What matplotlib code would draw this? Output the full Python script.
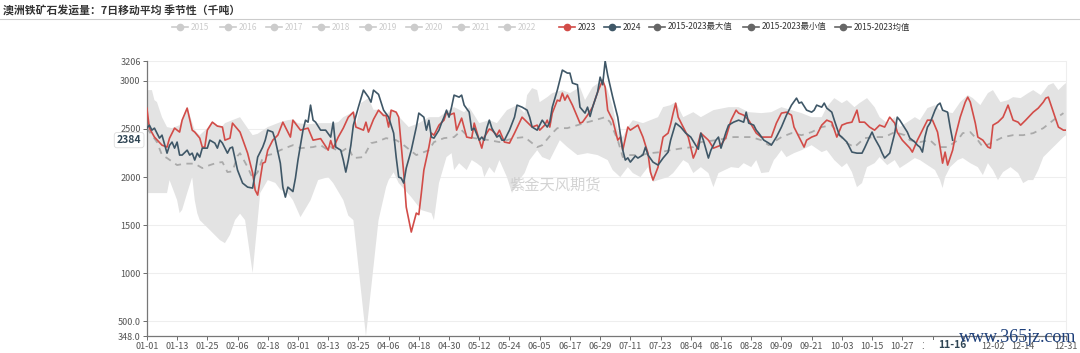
import numpy as np
import pandas as pd
import matplotlib
matplotlib.use("Agg")
import matplotlib.pyplot as plt
from matplotlib.lines import Line2D
from matplotlib.patches import Rectangle

plt.rcParams['font.family'] = ['Noto Sans CJK SC', 'DejaVu Sans']

# ---- data (day index within a leap-year calendar, value in kt) ----
days_all = pd.date_range('2024-01-01', '2024-12-31').strftime('%m-%d').tolist()

s2023 = [(0, 2716), (1, 2509), (3, 2416), (6, 2332), (8, 2312), (9, 2405), (11, 2509), (13, 2468), (14, 2592),
         (16, 2717), (18, 2488), (19, 2468), (21, 2405), (22, 2312), (23, 2312), (24, 2488), (26, 2571), (28, 2530),
         (30, 2520), (31, 2384), (33, 2405), (34, 2561), (37, 2468), (40, 2249), (42, 2042), (43, 1865), (44, 1813),
         (46, 2145), (47, 2156), (48, 2280), (50, 2384), (52, 2436), (54, 2571), (57, 2416), (58, 2592), (61, 2488),
         (64, 2509), (66, 2384), (69, 2400), (72, 2280), (73, 2380), (74, 2301), (76, 2416), (78, 2509), (80, 2623),
         (82, 2675), (83, 2520), (86, 2488), (87, 2571), (88, 2468), (90, 2600), (92, 2696), (94, 2640), (95, 2640),
         (96, 2520), (97, 2696), (99, 2675), (100, 2623), (102, 2042), (103, 1688), (105, 1429), (107, 1626),
         (108, 1610), (109, 1834), (110, 2073), (112, 2312), (113, 2457), (114, 2436), (116, 2540), (118, 2592),
         (119, 2675), (120, 2644), (122, 2665), (123, 2488), (125, 2613), (127, 2416), (129, 2405), (130, 2561),
         (132, 2384), (133, 2301), (134, 2416), (136, 2500), (137, 2488), (139, 2436), (140, 2488), (142, 2364),
         (144, 2353), (146, 2457), (149, 2623), (151, 2571), (153, 2520), (155, 2540), (156, 2488), (158, 2540),
         (159, 2592), (160, 2520), (161, 2665), (163, 2800), (164, 2790), (165, 2873), (166, 2800), (167, 2852),
         (169, 2748), (171, 2623), (172, 2561), (173, 2571), (175, 2644), (177, 2727), (179, 2883), (181, 3008),
         (182, 2935), (183, 2696), (185, 2592), (187, 2384), (188, 2416), (189, 2280), (191, 2520), (192, 2488),
         (195, 2540), (197, 2416), (199, 2249), (200, 2052), (201, 1969), (203, 2104), (204, 2280), (205, 2416),
         (207, 2457), (208, 2550), (209, 2665), (210, 2768), (211, 2623), (213, 2520), (215, 2416), (217, 2198),
         (218, 2260), (220, 2457), (223, 2384), (225, 2301), (228, 2332), (230, 2416), (232, 2592), (234, 2696),
         (235, 2665), (237, 2644), (239, 2592), (242, 2457), (244, 2416), (248, 2416), (250, 2561), (252, 2665),
         (254, 2675), (256, 2644), (257, 2520), (259, 2416), (261, 2312), (262, 2384), (264, 2416), (266, 2436),
         (268, 2540), (270, 2592), (272, 2571), (274, 2416), (276, 2540), (278, 2561), (280, 2571), (282, 2696),
         (283, 2571), (285, 2571), (287, 2520), (289, 2488), (291, 2540), (293, 2520), (295, 2623), (297, 2561),
         (298, 2468), (300, 2384), (303, 2301), (304, 2260), (306, 2384), (308, 2488), (310, 2592), (312, 2592),
         (314, 2468), (315, 2312), (316, 2145), (317, 2260), (318, 2125), (320, 2280), (321, 2416), (323, 2623),
         (325, 2779), (326, 2831), (327, 2779), (329, 2561), (330, 2416), (332, 2384), (334, 2312), (335, 2301),
         (336, 2540), (338, 2571), (340, 2623), (342, 2748), (344, 2592), (346, 2571), (347, 2540), (349, 2592),
         (352, 2675), (354, 2717), (356, 2779), (357, 2821), (358, 2831), (360, 2675), (362, 2520), (364, 2488),
         (365, 2488)]

s2024 = [(0, 2509), (1, 2540), (2, 2488), (3, 2509), (5, 2405), (6, 2436), (8, 2249), (9, 2330), (10, 2364),
         (11, 2301), (12, 2364), (13, 2229), (14, 2229), (16, 2280), (17, 2229), (18, 2249), (19, 2177), (20, 2249),
         (21, 2208), (22, 2301), (24, 2301), (25, 2384), (27, 2353), (28, 2301), (29, 2384), (30, 2353), (32, 2249),
         (33, 2301), (34, 2312), (36, 2073), (38, 1938), (40, 1896), (42, 1886), (43, 2042), (44, 2208), (46, 2312),
         (47, 2384), (48, 2488), (50, 2468), (51, 2384), (53, 2145), (54, 1896), (55, 1792), (56, 1896), (58, 1850),
         (59, 1990), (60, 2177), (62, 2488), (63, 2592), (64, 2571), (65, 2748), (66, 2592), (67, 2571), (69, 2488),
         (71, 2488), (73, 2416), (74, 2571), (75, 2312), (77, 2280), (78, 2177), (79, 2052), (80, 2177), (81, 2330),
         (82, 2540), (84, 2727), (86, 2904), (88, 2831), (89, 2779), (90, 2904), (92, 2860), (93, 2779), (94, 2696),
         (96, 2623), (98, 2457), (99, 2208), (100, 2000), (101, 1990), (102, 1938), (103, 2094), (105, 2280),
         (107, 2520), (108, 2665), (110, 2623), (111, 2488), (112, 2590), (113, 2416), (114, 2405), (116, 2488),
         (117, 2561), (118, 2623), (119, 2696), (120, 2623), (121, 2727), (122, 2852), (124, 2831), (125, 2852),
         (126, 2748), (128, 2675), (129, 2488), (130, 2509), (132, 2384), (133, 2416), (134, 2384), (135, 2509),
         (136, 2592), (137, 2509), (139, 2416), (140, 2436), (141, 2384), (142, 2384), (144, 2488), (146, 2623),
         (147, 2748), (149, 2727), (151, 2696), (152, 2623), (153, 2520), (155, 2488), (157, 2592), (159, 2520),
         (160, 2571), (161, 2727), (163, 2904), (164, 3008), (165, 3112), (167, 3081), (168, 3081), (169, 2977),
         (171, 2960), (172, 2727), (174, 2665), (175, 2727), (176, 2630), (177, 2727), (179, 2883), (180, 3039),
         (181, 2960), (182, 3206), (183, 3060), (185, 2831), (187, 2623), (189, 2280), (190, 2177), (191, 2200),
         (192, 2156), (194, 2220), (195, 2198), (197, 2230), (198, 2312), (199, 2230), (201, 2156), (203, 2125),
         (205, 2198), (207, 2260), (208, 2384), (210, 2561), (212, 2520), (214, 2457), (216, 2416), (218, 2330),
         (219, 2290), (220, 2457), (221, 2384), (223, 2198), (224, 2280), (226, 2384), (227, 2416), (228, 2301),
         (230, 2468), (231, 2540), (233, 2571), (235, 2592), (237, 2571), (238, 2675), (239, 2561), (241, 2540),
         (242, 2488), (243, 2457), (245, 2384), (247, 2353), (248, 2332), (250, 2416), (252, 2520), (254, 2644),
         (256, 2748), (258, 2821), (259, 2769), (260, 2779), (262, 2696), (264, 2675), (265, 2696), (266, 2748),
         (268, 2727), (269, 2769), (270, 2717), (272, 2675), (273, 2592), (275, 2436), (276, 2416), (278, 2364),
         (279, 2312), (280, 2260), (282, 2249), (284, 2249), (285, 2301), (287, 2416), (288, 2468), (289, 2405),
         (291, 2312), (292, 2249), (293, 2198), (295, 2249), (297, 2457), (298, 2623), (299, 2592), (301, 2509),
         (302, 2468), (303, 2405), (305, 2364), (306, 2332), (307, 2312), (308, 2260), (309, 2416), (310, 2520),
         (311, 2561), (313, 2696), (314, 2748), (315, 2769), (316, 2696), (318, 2675), (319, 2520), (320, 2384)]

s_mean = [(0, 2509), (4, 2364), (6, 2229), (8, 2198), (12, 2125), (15, 2140), (19, 2140), (22, 2094), (25, 2125),
          (28, 2150), (30, 2156), (32, 2052), (34, 2060), (36, 2220), (37, 2249), (40, 2104), (42, 1990), (44, 2052),
          (46, 2200), (48, 2229), (50, 2240), (53, 2280), (56, 2312), (58, 2332), (61, 2301), (66, 2312), (69, 2332),
          (72, 2280), (73, 2312), (77, 2260), (80, 2312), (82, 2198), (86, 2208), (89, 2353), (91, 2364), (95, 2405),
          (99, 2384), (101, 2353), (107, 2229), (112, 2280), (114, 2364), (118, 2405), (122, 2416), (125, 2488),
          (127, 2436), (130, 2405), (136, 2384), (140, 2364), (146, 2405), (150, 2416), (155, 2312), (157, 2332),
          (161, 2457), (163, 2509), (167, 2509), (171, 2540), (175, 2571), (178, 2592), (182, 2623), (184, 2571),
          (187, 2384), (189, 2208), (191, 2229), (196, 2229), (200, 2249), (204, 2260), (208, 2280), (213, 2301),
          (217, 2312), (220, 2364), (226, 2384), (233, 2416), (240, 2416), (244, 2384), (247, 2332), (252, 2416),
          (256, 2457), (260, 2436), (264, 2468), (268, 2520), (272, 2540), (274, 2468), (278, 2353), (281, 2312),
          (285, 2405), (289, 2416), (293, 2416), (297, 2468), (301, 2436), (303, 2384), (307, 2364), (311, 2384),
          (314, 2312), (318, 2312), (322, 2384), (324, 2457), (327, 2468), (330, 2384), (332, 2312), (336, 2364),
          (340, 2416), (344, 2436), (348, 2436), (352, 2457), (356, 2509), (360, 2592), (364, 2665)]

s_max = [(0, 2904), (2, 2904), (3, 2800), (4, 2780), (6, 2623), (8, 2520), (10, 2509), (13, 2540), (16, 2730),
         (19, 2488), (21, 2436), (24, 2509), (26, 2580), (28, 2540), (30, 2530), (31, 2561), (34, 2592), (37, 2623),
         (40, 2509), (42, 2436), (44, 2450), (48, 2520), (50, 2540), (53, 2571), (56, 2592), (58, 2600), (60, 2560),
         (64, 2550), (69, 2561), (74, 2561), (76, 2571), (78, 2623), (80, 2650), (82, 2680), (83, 2530), (85, 2769),
         (88, 2821), (90, 2700), (92, 2700), (95, 2650), (97, 2700), (99, 2680), (100, 2630), (104, 2520),
         (108, 2561), (112, 2623), (116, 2623), (119, 2680), (122, 2727), (126, 2675), (128, 2727), (132, 2561),
         (136, 2592), (139, 2561), (143, 2696), (147, 2748), (150, 2665), (151, 2852), (153, 2925), (155, 2904),
         (156, 2779), (159, 2831), (161, 2873), (165, 2904), (168, 2873), (172, 2935), (174, 2800), (177, 2935),
         (181, 3010), (183, 2904), (185, 2727), (187, 2488), (189, 2416), (191, 2520), (193, 2592), (197, 2561),
         (203, 2623), (205, 2727), (208, 2748), (210, 2780), (213, 2623), (217, 2675), (220, 2623), (225, 2696),
         (231, 2727), (235, 2727), (239, 2675), (244, 2665), (248, 2675), (252, 2727), (256, 2696), (260, 2665),
         (264, 2623), (268, 2623), (270, 2727), (273, 2821), (276, 2769), (278, 2800), (281, 2727), (283, 2769),
         (286, 2821), (289, 2727), (291, 2623), (294, 2561), (297, 2623), (299, 2520), (302, 2571), (305, 2623),
         (307, 2592), (310, 2717), (313, 2748), (315, 2696), (318, 2675), (320, 2665), (323, 2779), (326, 2852),
         (328, 2821), (331, 2748), (334, 2873), (336, 2904), (339, 2779), (342, 2800), (344, 2831), (347, 2821),
         (350, 2873), (352, 2904), (355, 2852), (358, 2956), (360, 2977), (362, 2904), (364, 2956), (365, 2977)]

s_min = [(0, 1834), (8, 1834), (9, 1969), (10, 1900), (12, 1761), (13, 1626), (14, 1660), (16, 1834), (18, 2000),
         (19, 1761), (20, 1626), (21, 1553), (25, 1450), (29, 1345), (31, 1314), (33, 1400), (35, 1553),
         (37, 1620), (39, 1553), (42, 1003), (44, 1553), (45, 1834), (48, 1969), (51, 1940), (53, 1870), (56, 1830),
         (58, 1760), (61, 1584), (65, 1760), (68, 1969), (72, 2000), (74, 1938), (78, 1761), (80, 1600), (82, 1553),
         (87, 348), (92, 1553), (95, 1896), (96, 1969), (98, 2050), (100, 1938), (105, 1792), (109, 1657),
         (113, 1626), (114, 1553), (116, 1938), (119, 2208), (121, 2249), (122, 2073), (124, 2145), (127, 2073),
         (129, 2177), (131, 2145), (133, 2104), (134, 2000), (136, 2104), (138, 2042), (140, 2177), (143, 2000),
         (145, 1834), (147, 1938), (150, 2042), (152, 2177), (155, 2280), (157, 2208), (160, 2177), (164, 2384),
         (167, 2312), (171, 2229), (175, 2249), (179, 2229), (183, 2177), (185, 2073), (188, 2000), (191, 2104),
         (193, 2042), (196, 2000), (199, 2104), (201, 1950), (203, 1969), (207, 2000), (209, 2042), (213, 2177),
         (215, 2145), (217, 2042), (220, 2104), (223, 2042), (225, 1896), (227, 2042), (232, 2104), (235, 2094),
         (237, 2145), (240, 2104), (242, 2177), (244, 2042), (247, 2052), (249, 2177), (250, 2208), (252, 2280),
         (254, 2208), (257, 2249), (260, 2280), (264, 2332), (268, 2260), (270, 2280), (273, 2177), (276, 2104),
         (278, 2145), (280, 2052), (282, 1896), (284, 1938), (286, 2104), (289, 2145), (291, 2208), (294, 2125),
         (297, 2177), (299, 2094), (302, 2145), (305, 2198), (307, 2177), (310, 2125), (313, 2073), (315, 1969),
         (316, 1886), (317, 2000), (319, 2104), (322, 2177), (324, 2198), (327, 2145), (330, 2104), (332, 2021),
         (334, 2145), (336, 2073), (338, 1969), (340, 2052), (343, 2104), (346, 2042), (348, 1938), (350, 1969),
         (352, 1969), (354, 2073), (356, 2208), (360, 2312), (364, 2416), (365, 2436)]

y_ticks = [348, 500, 1000, 1500, 2000, 2500, 3000, 3206]
y_tick_labels = ['348.0', '500.0', '1000', '1500', '2000', '2500', '3000', '3206']

legend_names = ['2015', '2016', '2017', '2018', '2019', '2020', '2021', '2022',
                '2023', '2024', '2015-2023最大值', '2015-2023最小值', '2015-2023均值']

RED = '#d24c48'
DARK = '#3f5767'
GREY = '#666666'
BAND = '#e3e3e3'

fig = plt.figure(figsize=(10.8, 3.53), dpi=100)
ax = fig.add_axes([0.136, 0.048, 0.851, 0.779])

# band between min and max
xmax, vmax = zip(*s_max)
xmin, vmin = zip(*s_min)
ax.fill(list(xmax) + list(xmin)[::-1], list(vmax) + list(vmin)[::-1],
        color=BAND, lw=0, zorder=1)

xm, vm = zip(*s_mean)
ax.plot(xm, vm, color='#aaaaaa', lw=1.3, ls=(0, (3.5, 3)), zorder=2)
x3, v3 = zip(*s2023)
ax.plot(x3, v3, color=RED, lw=1.2, zorder=3)
x4, v4 = zip(*s2024)
ax.plot(x4, v4, color=DARK, lw=1.2, zorder=4)

ax.set_xlim(0, 365)
ax.set_ylim(348, 3206)
ax.set_yticks(y_ticks)
ax.set_yticklabels(y_tick_labels)
ax.yaxis.grid(True, color='#eeeeee', lw=0.8)
ax.set_axisbelow(True)

tick_pos = list(range(0, 361, 12)) + [365]
tick_lab = [days_all[i] if i not in (324, 360) else '' for i in tick_pos]
ax.set_xticks(tick_pos)
ax.set_xticklabels(tick_lab)
ax.tick_params(axis='both', labelsize=6.5, colors='#555555', length=3, width=0.6, pad=1.5)

ax.spines['top'].set_visible(False)
ax.spines['right'].set_color('#eeeeee')
ax.spines['left'].set_color('#777777')
ax.spines['bottom'].set_color('#777777')
ax.spines['left'].set_linewidth(0.9)
ax.spines['bottom'].set_linewidth(0.9)

# pointer labels
ax.text(-0.006, 2384, '2384', transform=ax.get_yaxis_transform(), ha='right', va='center',
        fontsize=7.5, weight='bold', color='#2f4554', zorder=10, clip_on=False,
        bbox=dict(boxstyle='round,pad=0.25', fc='white', ec='#dddddd', lw=0.6))
ax.add_patch(Rectangle((308.5, -0.075), 23, 0.06, transform=ax.get_xaxis_transform(),
                       fc='white', ec='none', zorder=9, clip_on=False))
ax.text(320, -0.014, '11-16', transform=ax.get_xaxis_transform(), ha='center', va='top',
        fontsize=7.5, weight='bold', color='#2f4554', zorder=10, clip_on=False)

# watermarks
ax.text(0.444, 0.549, '紫金天风期货', transform=ax.transAxes, ha='center', va='center',
        fontsize=11, color='#c8c8c8', alpha=0.8, zorder=5)
fig.text(0.997, 1 - 338 / 353, 'www.365jz.com', ha='right', va='center', fontsize=13,
         family='Liberation Serif', color='#1d3f7a', zorder=20)

# title + separator
fig.text(3 / 1080, 1 - 10 / 353, '澳洲铁矿石发运量：7日移动平均 季节性（千吨）', ha='left', va='center',
         fontsize=7.8, weight='bold', color='#333333')
fig.add_artist(Line2D([0, 1], [1 - 19 / 353] * 2, color='#cccccc', lw=0.8))

# legend, drawn by hand
marker_px = [180, 228, 274, 321, 368, 414, 461, 507, 567, 612, 657, 751, 843]
leg_colors = ['#cccccc'] * 8 + [RED, DARK, GREY, GREY, GREY]
text_colors = ['#cccccc'] * 8 + ['#333333'] * 5
ly = 1 - 27 / 353
for name, mx, c, tc in zip(legend_names, marker_px, leg_colors, text_colors):
    fig.add_artist(Line2D([(mx - 8) / 1080, (mx + 8) / 1080], [ly, ly], color=c, lw=1.2))
    fig.add_artist(Line2D([mx / 1080], [ly], marker='o', ms=4.5, color=c, lw=0))
    fig.text((mx + 11) / 1080, ly, name, ha='left', va='center', fontsize=6, color=tc)

fig.savefig('out.png', dpi=100)
